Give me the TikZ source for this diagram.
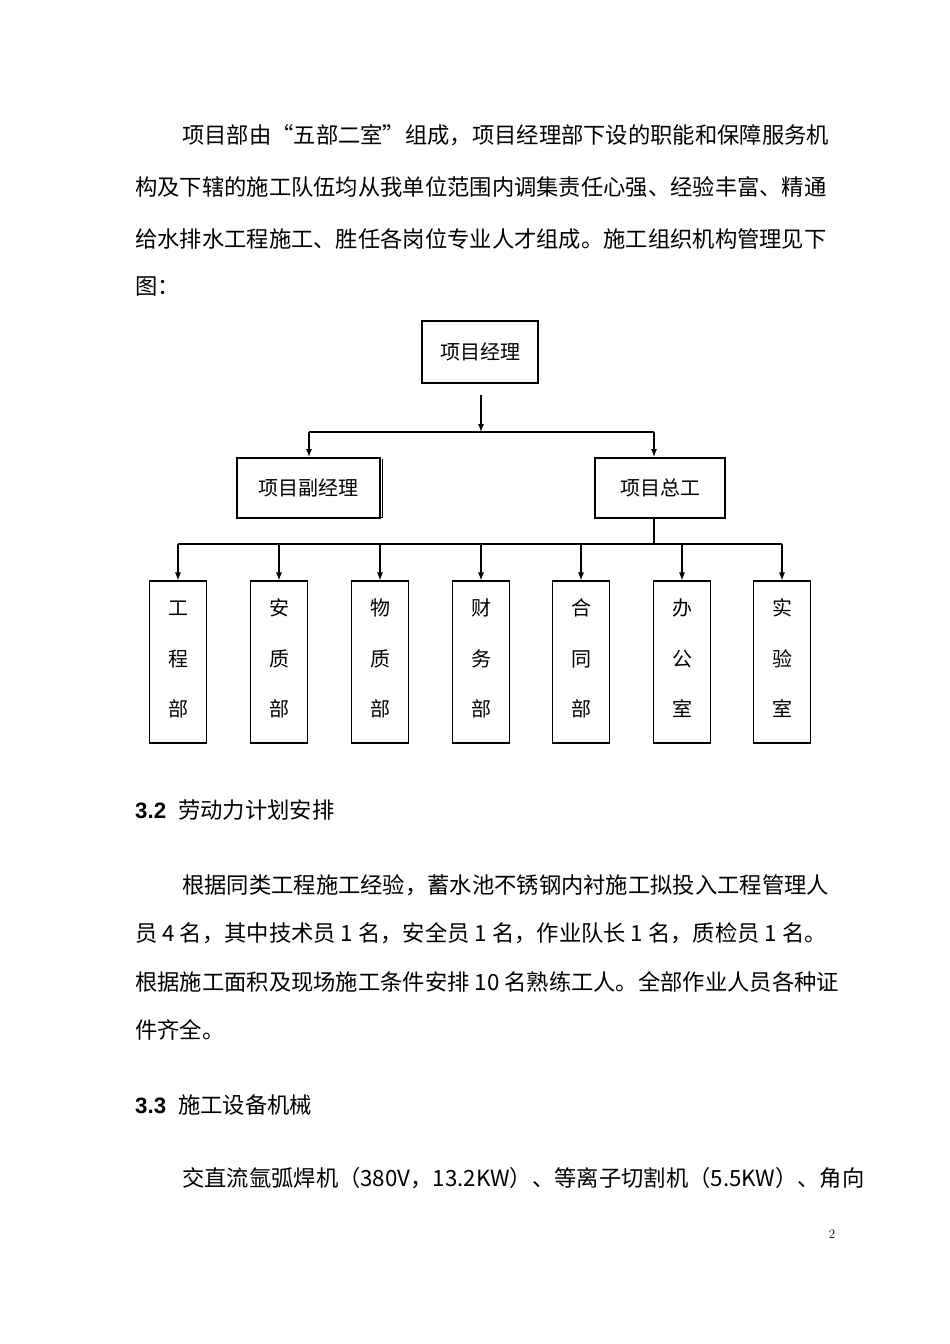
\documentclass[tikz,border=0pt]{standalone}
\usepackage{fontspec}
\newfontfamily\cjk{Noto Sans CJK SC}
\newfontfamily\hsans{Liberation Sans}
\usetikzlibrary{arrows.meta}
\begin{document}
\begin{tikzpicture}[x=1pt,y=-1pt,
  txt/.style={anchor=west,inner sep=0pt,font=\cjk\fontsize{22.3}{24}\selectfont},
  bx/.style={draw,line width=1.1pt,inner sep=0pt},
  lbl/.style={inner sep=0pt,font=\cjk\fontsize{20}{24}\selectfont},
  ln/.style={line width=1.1pt},
  arr/.style={line width=1.1pt,-{Latex[length=8pt,width=6pt]}}]
\useasboundingbox (0,0) rectangle (950,1344);
\node[txt] (p1) at (182,135) {项目部由“五部二室”组成，项目经理部下设的职能和保障服务机};
\node[txt] (p2) at (135,187) {构及下辖的施工队伍均从我单位范围内调集责任心强、经验丰富、精通};
\node[txt] (p3) at (135,239) {给水排水工程施工、胜任各岗位专业人才组成。施工组织机构管理见下};
\node[txt] (p4) at (135,287) {图：};
% chart
\node[bx,minimum width=116pt,minimum height=62pt] (pm) at (480,352) {};
\node[lbl] at (pm) {项目经理};
\node[bx,minimum width=143pt,minimum height=60pt] (dm) at (308.5,488) {};
\node[lbl] at (dm) {项目副经理};
\draw[line width=1.1pt] ([xshift=1.5pt,yshift=-2pt]dm.north east) -- ([xshift=1.5pt,yshift=1.5pt]dm.south east) -- ([xshift=2pt,yshift=1.5pt]dm.south west);
\node[bx,minimum width=130pt,minimum height=60pt] (ce) at (660,488) {};
\node[lbl] at (ce) {项目总工};
\coordinate (j1) at (481,395);
\coordinate (h1) at (481,432);
\coordinate (hl) at (309,432);
\coordinate (hr) at (654,432);
\draw[arr] (j1) -- (h1);
\draw[ln] (hl) -- (hr);
\draw[arr] (hl) -- (309,457);
\draw[arr] (hr) -- (654,457);
\coordinate (c1) at (654,518);
\coordinate (c2) at (654,544);
\draw[ln] (c1) -- (c2);
\draw[ln] (178,544) -- (782,544);
\foreach \x/\a/\b/\c/\n in {178/工/程/部/d1,279/安/质/部/d2,380/物/质/部/d3,481/财/务/部/d4,581/合/同/部/d5,682/办/公/室/d6,782/实/验/室/d7}{
  \node[bx,minimum width=57pt,minimum height=162pt] (\n) at (\x,662) {};
  \node[lbl] at (\x,608) {\a};
  \node[lbl] at (\x,659) {\b};
  \node[lbl] at (\x,709) {\c};
  \draw[arr] (\x,544) -- (\n.north);
}
\node[txt] (h32) at (135,810) {{\hsans\bfseries 3.2}\hspace{12pt}劳动力计划安排};
\node[txt] (q1) at (182,885) {根据同类工程施工经验，蓄水池不锈钢内衬施工拟投入工程管理人};
\node[txt] (q2) at (135,933) {员 4 名，其中技术员 1 名，安全员 1 名，作业队长 1 名，质检员 1 名。};
\node[txt] (q3) at (135,982) {根据施工面积及现场施工条件安排 10 名熟练工人。全部作业人员各种证};
\node[txt] (q4) at (135,1030) {件齐全。};
\node[txt] (h33) at (135,1105) {{\hsans\bfseries 3.3}\hspace{12pt}施工设备机械};
\node[txt] (r1) at (182,1178) {交直流氩弧焊机（380V，13.2KW）、等离子切割机（5.5KW）、角向};
\node[inner sep=0pt,font=\fontsize{13}{15}\selectfont] (pg) at (832,1234) {2};
\end{tikzpicture}
\end{document}
